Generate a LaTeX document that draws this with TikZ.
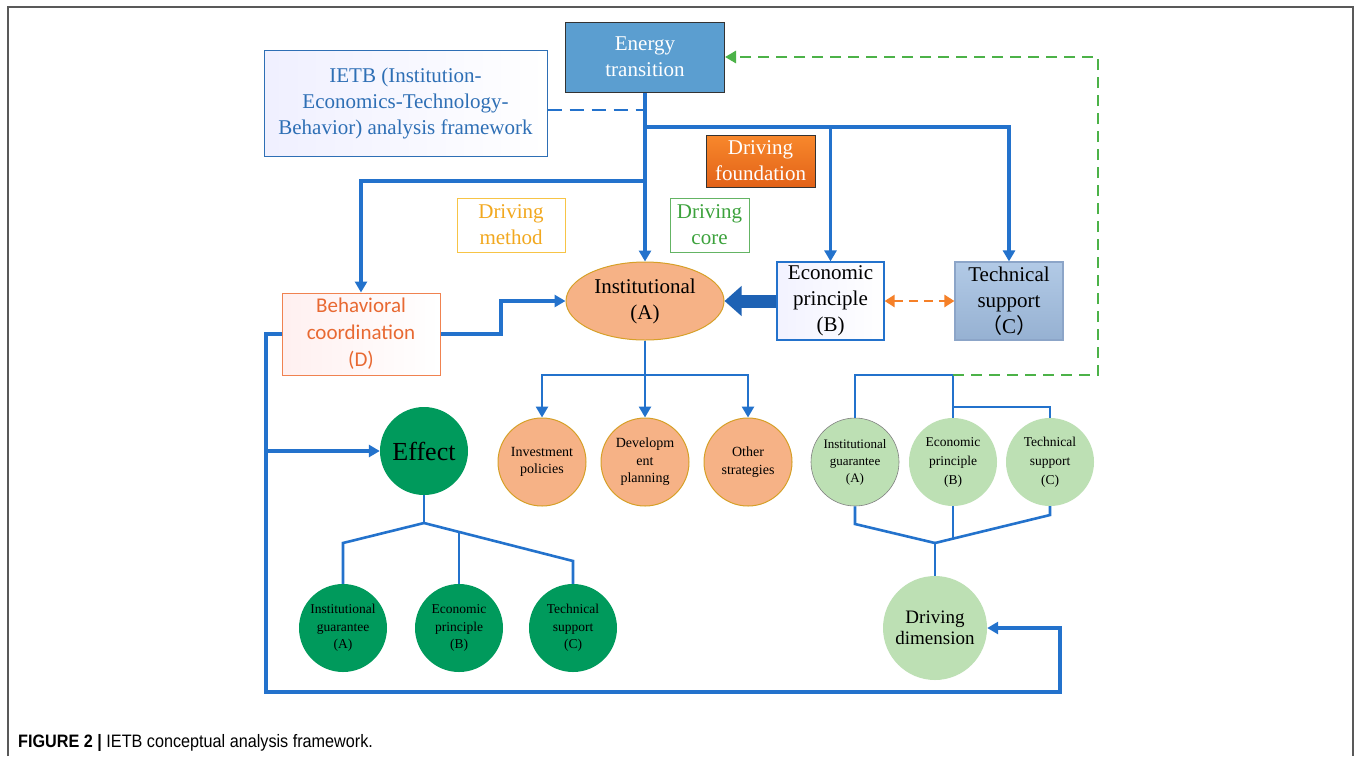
\documentclass[tikz,border=0pt]{standalone}
\usepackage{fontspec}
\setmainfont{Liberation Serif}
\newfontfamily\tnr{Liberation Serif}
\newfontfamily\capfont[FakeStretch=0.9]{Liberation Sans}
\newfontfamily\calfont{Carlito}
\newfontfamily\cjk{Noto Sans CJK SC}
\usetikzlibrary{arrows.meta,shapes.geometric,calc}
\definecolor{lblue}{RGB}{35,114,204}
\definecolor{energyblue}{RGB}{91,158,208}
\definecolor{ietbtext}{RGB}{46,111,181}
\definecolor{forange1}{RGB}{248,136,44}
\definecolor{forange2}{RGB}{226,98,24}
\definecolor{instfill}{RGB}{246,178,134}
\definecolor{instborder}{RGB}{214,160,40}
\definecolor{lgreen}{RGB}{189,224,180}
\definecolor{dgreen}{RGB}{0,154,92}
\definecolor{gdashc}{RGB}{76,178,72}
\definecolor{odash}{RGB}{245,128,40}
\definecolor{tech1}{RGB}{178,202,230}
\definecolor{tech2}{RGB}{150,177,210}
\definecolor{techb}{RGB}{140,165,200}
\definecolor{methb}{RGB}{247,196,70}
\definecolor{metht}{RGB}{242,168,30}
\definecolor{coreb}{RGB}{100,180,100}
\definecolor{coret}{RGB}{60,162,60}
\definecolor{behb}{RGB}{240,130,80}
\definecolor{beht}{RGB}{232,105,50}
\definecolor{thickblue}{RGB}{30,98,180}
\tikzset{
  box/.style={rectangle, inner sep=0pt, align=center, font=\tnr\fontsize{21}{26}\selectfont},
  circ/.style={circle, inner sep=0pt, minimum size=88pt, align=center, font=\tnr\fontsize{14}{17.5}\selectfont},
  bl/.style={draw=lblue, line width=3.2pt},
  bl2/.style={draw=lblue, line width=2.6pt},
  tip/.style={-{Triangle[width=12pt,length=11pt]}},
}
\begin{document}
\begin{tikzpicture}[x=1pt,y=-1pt]
\useasboundingbox (0,0) rectangle (1356,756);
\fill[white] (0,0) rectangle (1356,756);
% frame
\draw[gray!70!black, line width=1.5pt] (8,756) -- (8,7) -- (1353,7) -- (1353,756);

% nodes
\node[box, draw=black!80, line width=1pt, fill=energyblue, text=white, minimum width=159pt, minimum height=70pt] (energy) at (645,57) {Energy\\transition};
\node[box, draw=ietbtext, line width=1pt, left color=blue!6, right color=white, text=ietbtext, minimum width=283pt, minimum height=106pt] (ietb) at (405.5,103) {IETB (Institution-\\Economics-Technology-\\Behavior) analysis framework};
\node[box, draw=black!80, line width=1pt, top color=forange1, bottom color=forange2, text=white, minimum width=109pt, minimum height=52pt] (found) at (760.5,161) {Driving\\foundation};
\node[box, draw=methb, line width=1pt, fill=white, text=metht, minimum width=108pt, minimum height=54pt] (method) at (511,225) {Driving\\method};
\node[box, draw=coreb, line width=1pt, fill=white, text=coret, minimum width=79pt, minimum height=54pt] (core) at (709.5,225) {Driving\\core};
\node[ellipse, inner sep=0pt, draw=instborder, line width=1pt, fill=instfill, minimum width=158pt, minimum height=78pt, align=center, font=\tnr\fontsize{21}{26}\selectfont] (inst) at (645,301) {Institutional\\(A)};
\node[box, draw=lblue, line width=1.2pt, left color=blue!5, right color=white, minimum width=107pt, minimum height=78pt] (econ) at (830.5,301) {Economic\\principle\\(B)};
\node[box, draw=techb, line width=1.2pt, top color=tech1, bottom color=tech2, minimum width=108pt, minimum height=78pt] (tech) at (1009,301) {Technical\\support\\{\cjk （}C{\cjk ）}};
\node[box, draw=behb, line width=1pt, left color=red!6, right color=white, text=beht, minimum width=158pt, minimum height=82pt, font=\calfont\fontsize{21}{27}\selectfont] (behav) at (361,334) {Behavioral\\coordination\\(D)};

\node[circ, draw=instborder, line width=1pt, fill=instfill] (inv) at (542,462) {Investment\\policies};
\node[circ, draw=instborder, line width=1pt, fill=instfill] (dev) at (645,462) {Developm\\ent\\planning};
\node[circ, draw=instborder, line width=1pt, fill=instfill] (oth) at (748,462) {Other\\strategies};

\node[circ, fill=dgreen, font=\tnr\fontsize{26}{30}\selectfont] (effect) at (424,451) {Effect};
\node[circ, fill=dgreen, font=\tnr\fontsize{13.5}{17.5}\selectfont] (gA) at (343,628) {Institutional\\guarantee\\(A)};
\node[circ, fill=dgreen, font=\tnr\fontsize{13.5}{17.5}\selectfont] (gB) at (459,628) {Economic\\principle\\(B)};
\node[circ, fill=dgreen, font=\tnr\fontsize{13.5}{17.5}\selectfont] (gC) at (573,628) {Technical\\support\\(C)};

\node[circ, fill=lgreen, draw=gray, line width=0.6pt, font=\tnr\fontsize{13}{17}\selectfont] (rA) at (855,462) {Institutional\\guarantee\\(A)};
\node[circ, fill=lgreen, font=\tnr\fontsize{13.5}{19}\selectfont] (rB) at (953,462) {Economic\\principle\\(B)};
\node[circ, fill=lgreen, font=\tnr\fontsize{13.5}{19}\selectfont] (rC) at (1050,462) {Technical\\support\\(C)};
\node[circ, fill=lgreen, minimum size=104pt, font=\tnr\fontsize{19}{21}\selectfont] (drive) at (935,628) {Driving\\dimension};

% coordinates
\coordinate (jd) at (645,110);
\coordinate (j1) at (645,127);
\coordinate (j2) at (645,181);
\coordinate (bj) at (501,334);
\coordinate (l1) at (266,334);
\coordinate (l2) at (266,451);
\coordinate (l3) at (266,692);
\coordinate (l4) at (1060,692);
\coordinate (i1) at (645,375);
\coordinate (e1) at (424,523);
\coordinate (e2) at (343,543);
\coordinate (e3) at (573,561);
\coordinate (e4) at (459,531.9);
\coordinate (r1) at (855,375);
\coordinate (r2) at (953,375);
\coordinate (r3) at (953,407);
\coordinate (r4) at (1098,375);
\coordinate (rj) at (935,543);
\coordinate (rja) at (855,524);
\coordinate (rjc) at (1050,515);
\coordinate (rjb) at (953,538.6);

% connectors
\draw[bl, tip] (energy.south) -- (inst.north);
\draw[bl, tip] (j1) -| (tech.north);
\draw[bl, tip] (j1) -| (econ.north);
\draw[bl, tip] (j2) -| (behav.north);
\draw[draw=lblue, line width=2pt, dash pattern=on 14pt off 8pt] (ietb.east |- jd) -- (jd);
\draw[draw=thickblue, line width=13pt, -{Triangle[width=29pt,length=17pt]}] (econ.west) -- (inst.east);
\draw[draw=odash, line width=2.6pt, dash pattern=on 9pt off 6pt, {Triangle[width=12pt,length=10pt]}-{Triangle[width=12pt,length=10pt]}] (econ.east) -- (tech.west);
\draw[bl, tip] (behav.east) -- (bj) |- (inst.west);
\draw[bl, tip] (behav.west) -- (l1) -- (l3) -- (l4) |- (drive.east);
\draw[bl, tip] (l2) -- (effect.west);

\draw[bl2] (inst.south) -- (i1);
\draw[bl2, tip] (i1) -| (inv.north);
\draw[bl2, tip] (i1) -| (oth.north);
\draw[bl2, tip] (i1) -- (dev.north);

\draw[bl2] (effect.south) -- (e1);
\draw[bl2] (e1) -- (e2) -- (gA.north);
\draw[bl2] (e1) -- (e3) -- (gC.north);
\draw[bl2] (e4) -- (gB.north);

\draw[bl2] (rA.north) -- (r1) -- (r2) -- (rB.north);
\draw[bl2] (r3) -| (rC.north);
\draw[draw=gdashc, line width=2.8pt, dash pattern=on 11pt off 7pt, -{Triangle[width=12pt,length=11pt]}] (r2) -- (r4) |- (energy.east);

\draw[bl2] (rA.south) -- (rja) -- (rj);
\draw[bl2] (rC.south) -- (rjc) -- (rj);
\draw[bl2] (rB.south) -- (rjb);
\draw[bl2] (rj) -- (drive.north);

% caption
\node[anchor=base west, inner sep=0pt, font=\capfont\fontsize{18}{20}\selectfont] (cap) at (18,747) {\textbf{FIGURE 2 |} IETB conceptual analysis framework.};
\end{tikzpicture}
\end{document}
